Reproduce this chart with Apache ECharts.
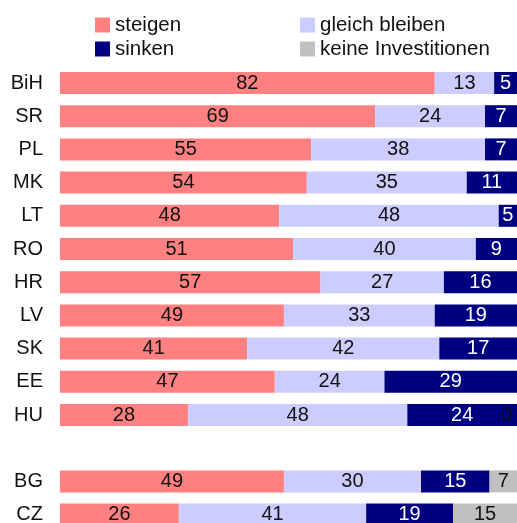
<!DOCTYPE html>
<html>
<head>
<meta charset="utf-8">
<script src="https://cdn.jsdelivr.net/npm/echarts@6/dist/echarts.min.js"></script>
<style>
    html, body { margin: 0; padding: 0; background: #fff; }
    #chart { width: 517px; height: 523px; }
</style>
</head>
<body>
<div id="chart"></div>
<script>
// Länder (leere Zeile = Abstand zwischen den Gruppen)
var countries = ['BiH', 'SR', 'PL', 'MK', 'LT', 'RO', 'HR', 'LV', 'SK', 'EE', 'HU', '', 'BG', 'CZ'];
var steigen = [82, 69, 55, 54, 48, 51, 57, 49, 41, 47, 28, null, 49, 26];
var gleich  = [13, 24, 38, 35, 48, 40, 27, 33, 42, 24, 48, null, 30, 41];
var sinken  = [5, 7, 7, 11, 5, 9, 16, 19, 17, 29, 24, null, 15, 19];
var keine   = [null, null, null, null, null, null, null, null, null, null, 0, null, 7, 15];

var font = 'Liberation Sans, Arial, sans-serif';

var chart = echarts.init(document.getElementById('chart'));

function serie(name, data, color, textColor) {
    return {
        name: name,
        type: 'bar',
        stack: 'all',
        barWidth: 22,
        data: data.map(function (v) {
            // der 0-Wert wird am rechten Rand beschriftet
            if (v === 0) {
                return { value: 0, label: { position: 'insideRight' } };
            }
            return v;
        }),
        itemStyle: { color: color },
        label: {
            show: true,
            position: 'inside',
            color: textColor,
            fontFamily: font,
            fontSize: 20
        },
        emphasis: { disabled: true }
    };
}

function legende(names, x) {
    return {
        orient: 'vertical',
        left: x,
        top: 14.5,
        padding: 0,
        itemWidth: 15,
        itemHeight: 15,
        itemGap: 3,
        icon: 'rect',
        data: names,
        textStyle: { fontFamily: font, fontSize: 20.5, color: '#111', lineHeight: 20 }
    };
}

var option = {
    animation: false,
    legend: [
        legende(['steigen', 'sinken'], 95),
        legende(['gleich bleiben', 'keine Investitionen'], 300)
    ],
    grid: {
        left: 60,
        top: 66.4,
        width: 457,
        height: 464.8,
        outerBoundsMode: 'none'
    },
    xAxis: {
        type: 'value',
        min: 0,
        max: 100,
        show: false
    },
    yAxis: {
        type: 'category',
        inverse: true,
        data: countries,
        axisLine: { show: false },
        axisTick: { show: false },
        axisLabel: {
            margin: 17,
            color: '#111',
            fontFamily: font,
            fontSize: 20
        }
    },
    series: [
        serie('steigen', steigen, '#ff8080', '#111'),
        serie('gleich bleiben', gleich, '#ccccff', '#111'),
        serie('sinken', sinken, '#000080', '#fff'),
        serie('keine Investitionen', keine, '#c0c0c0', '#111')
    ]
};

chart.setOption(option);
</script>
</body>
</html>
